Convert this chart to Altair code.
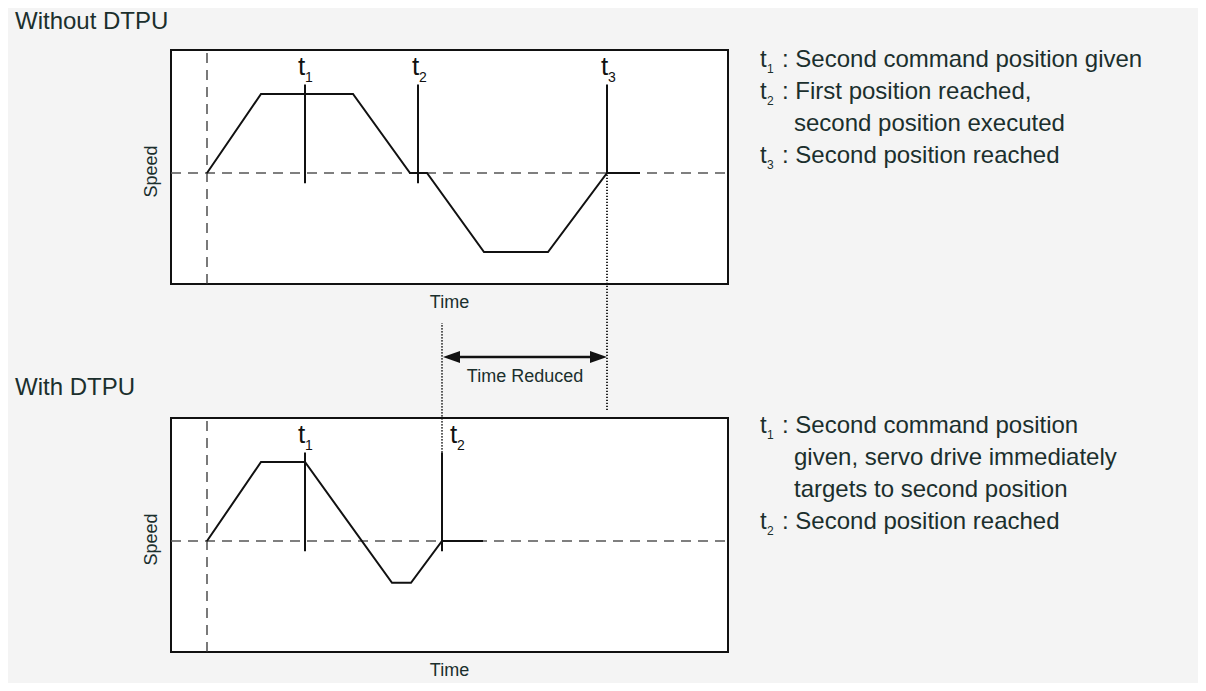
import altair as alt
import pandas as pd

# ---------------- data (time in ms from motion start, speed normalised to max) -------------
T_MIN, T_MAX = -199, 991            # horizontal extent of the drawing (ms)
TOP_DOMAIN = [-6.4557, 2.0886]      # vertical extent, top-diagram speed units
BOT_DOMAIN = [-1.7975, 6.7468]      # vertical extent, bottom-diagram speed units

panel_time = [-36, 521]
panel_speed = [-1.405, 1.557]

# Without DTPU profile
top_time = [0, 54, 146, 203, 220, 277, 341, 400, 433]
top_speed = [0, 1, 1, 0, 0, -1, -1, 0, 0]
top_marker_time = [98, 211, 400]
top_marker_low = [-0.13, -0.13, 0]
top_marker_labels = ["1", "2", "3"]
top_label_time = [91, 205, 394]

# With DTPU profile
bot_time = [0, 54, 98, 185, 204, 235, 276]
bot_speed = [0, 1, 1, -0.53, -0.53, 0, 0]
bot_marker_time = [98, 235]
bot_marker_low = [-0.13, -0.13]
bot_marker_labels = ["1", "2"]
bot_label_time = [91, 243]

marker_high = 1.12
label_speed = 1.24

# time reduced
reduced_start, reduced_end = 235, 400
arrow_speed = -2.33

# texts
top_notes = [
    ("1", ": Second command position given", 1.342),
    ("2", ": First position reached,", 0.937),
    (None, "second position executed", 0.532),
    ("3", ": Second position reached", 0.127),
]
bot_notes = [
    ("1", ": Second command position", 1.367),
    (None, "given, servo drive immediately", 0.962),
    (None, "targets to second position", 0.557),
    ("2", ": Second position reached", 0.158),
]
note_t_time, note_colon_time, note_cont_time = 553, 575, 587

TEXT = "#1b2f2d"
FONT = "Liberation Sans"


def xs(field="t"):
    return alt.X(f"{field}:Q", scale=alt.Scale(domain=[T_MIN, T_MAX], nice=False, zero=False), axis=None)


def ys(domain, field="s"):
    return alt.Y(f"{field}:Q", scale=alt.Scale(domain=domain, nice=False, zero=False), axis=None)


def panel(domain, prof_t, prof_s, mk_t, mk_low, mk_lab, lab_t, title, notes, extra):
    frame = alt.Chart(pd.DataFrame({"t": [panel_time[0]], "t2": [panel_time[1]],
                                    "s": [panel_speed[0]], "s2": [panel_speed[1]]})).mark_rect(
        fill="white", stroke="#111111", strokeWidth=2
    ).encode(x=xs(), x2=alt.X2("t2:Q"), y=ys(domain), y2=alt.Y2("s2:Q"))

    hdash = alt.Chart(pd.DataFrame({"t": [panel_time[0]], "t2": [panel_time[1]], "s": [0]})).mark_rule(
        color="#555555", strokeWidth=1.3, strokeDash=[10, 7]
    ).encode(x=xs(), x2=alt.X2("t2:Q"), y=ys(domain))

    vdash = alt.Chart(pd.DataFrame({"t": [0], "s": [panel_speed[0]], "s2": [panel_speed[1]]})).mark_rule(
        color="#333333", strokeWidth=1.3, strokeDash=[10, 7]
    ).encode(x=xs(), y=ys(domain), y2=alt.Y2("s2:Q"))

    prof = alt.Chart(pd.DataFrame({"t": prof_t, "s": prof_s, "i": list(range(len(prof_t)))})).mark_line(
        color="#111111", strokeWidth=2
    ).encode(x=xs(), y=ys(domain), order="i:Q")

    mk = alt.Chart(pd.DataFrame({"t": mk_t, "s": mk_low, "s2": [marker_high] * len(mk_t)})).mark_rule(
        color="#111111", strokeWidth=2
    ).encode(x=xs(), y=ys(domain), y2=alt.Y2("s2:Q"))

    lab_df = pd.DataFrame({"t": lab_t, "s": [label_speed] * len(lab_t), "sub": mk_lab,
                           "txt": ["t"] * len(lab_t)})
    lab = alt.Chart(lab_df).mark_text(
        align="left", baseline="alphabetic", font=FONT, fontSize=26, color="#111111"
    ).encode(x=xs(), y=ys(domain), text="txt:N")
    sub = alt.Chart(lab_df).mark_text(
        align="left", baseline="alphabetic", font=FONT, fontSize=14, color="#111111", dx=7, dy=7
    ).encode(x=xs(), y=ys(domain), text="sub:N")

    speed_lab = alt.Chart(pd.DataFrame({"t": [-50], "s": [0.02], "txt": ["Speed"]})).mark_text(
        align="center", baseline="alphabetic", angle=270, font=FONT, fontSize=18, color=TEXT
    ).encode(x=xs(), y=ys(domain), text="txt:N")
    time_lab = alt.Chart(pd.DataFrame({"t": [(panel_time[0] + panel_time[1]) / 2], "s": [-1.709],
                                       "txt": ["Time"]})).mark_text(
        align="center", baseline="alphabetic", font=FONT, fontSize=18, color=TEXT
    ).encode(x=xs(), y=ys(domain), text="txt:N")

    ttl = alt.Chart(pd.DataFrame({"t": [-192], "s": [title[1]], "txt": [title[0]]})).mark_text(
        align="left", baseline="alphabetic", font=FONT, fontSize=24, color=TEXT
    ).encode(x=xs(), y=ys(domain), text="txt:N")

    rows = []
    for sb, body, sp in notes:
        if sb is None:
            rows.append({"t": note_cont_time, "s": sp, "txt": body, "kind": "body"})
        else:
            rows.append({"t": note_t_time, "s": sp, "txt": "t", "kind": "body"})
            rows.append({"t": note_t_time, "s": sp, "txt": sb, "kind": "sub"})
            rows.append({"t": note_colon_time, "s": sp, "txt": body, "kind": "body"})
    ndf = pd.DataFrame(rows)
    note_body = alt.Chart(ndf[ndf.kind == "body"]).mark_text(
        align="left", baseline="alphabetic", font=FONT, fontSize=24, color=TEXT
    ).encode(x=xs(), y=ys(domain), text="txt:N")
    note_sub = alt.Chart(ndf[ndf.kind == "sub"]).mark_text(
        align="left", baseline="alphabetic", font=FONT, fontSize=12, color=TEXT, dx=7, dy=6
    ).encode(x=xs(), y=ys(domain), text="txt:N")

    layers = [frame, hdash, vdash, prof, mk] + extra(domain) + [lab, sub, speed_lab, time_lab, ttl,
                                                                note_body, note_sub]
    return alt.layer(*layers)


def top_extra(domain):
    dotted = alt.Chart(pd.DataFrame({"t": [reduced_end], "s": [-3.0], "s2": [0]})).mark_rule(
        color="#111111", strokeWidth=1.8, strokeDash=[1.2, 1.8]
    ).encode(x=xs(), y=ys(domain), y2=alt.Y2("s2:Q"))
    shaft = alt.Chart(pd.DataFrame({"t": [reduced_start + 6], "t2": [reduced_end - 6],
                                    "s": [arrow_speed]})).mark_rule(
        color="#111111", strokeWidth=2.5
    ).encode(x=xs(), x2=alt.X2("t2:Q"), y=ys(domain))
    heads = alt.Chart(pd.DataFrame({"t": [reduced_start + 1, reduced_end], "s": [arrow_speed] * 2,
                                    "dir": ["L", "R"]})).mark_point(
        filled=True, size=289, opacity=1, color="#111111", strokeWidth=0
    ).encode(
        x=xs(), y=ys(domain),
        shape=alt.Shape("dir:N", scale=alt.Scale(domain=["L", "R"],
                                                 range=["M0,0L2,-0.7L2,0.7Z", "M0,0L-2,-0.7L-2,0.7Z"]),
                        legend=None),
    )
    red_txt = alt.Chart(pd.DataFrame({"t": [(reduced_start + reduced_end) / 2 + 0.5], "s": [-2.64],
                                      "txt": ["Time Reduced"]})).mark_text(
        align="center", baseline="alphabetic", font=FONT, fontSize=18, color=TEXT
    ).encode(x=xs(), y=ys(domain), text="txt:N")
    return [dotted, shaft, heads, red_txt]


def bot_extra(domain):
    dotted = alt.Chart(pd.DataFrame({"t": [reduced_start], "s": [marker_high], "s2": [2.76]})).mark_rule(
        color="#111111", strokeWidth=1.8, strokeDash=[1.2, 1.8]
    ).encode(x=xs(), y=ys(domain), y2=alt.Y2("s2:Q"))
    return [dotted]


top = panel(TOP_DOMAIN, top_time, top_speed, top_marker_time, top_marker_low, top_marker_labels,
            top_label_time, ("Without DTPU", 1.819), top_notes, top_extra)
bot = panel(BOT_DOMAIN, bot_time, bot_speed, bot_marker_time, bot_marker_low, bot_marker_labels,
            bot_label_time, ("With DTPU", 1.848), bot_notes, bot_extra)

chart = alt.layer(top, bot).resolve_scale(y="independent").properties(
    width=1190, height=675, autosize=alt.AutoSizeParams(type="none"), padding=0,
    background="#f4f4f4",
).configure_view(stroke=None)

chart.save("out.html", embed_options={"renderer": "svg", "actions": False})
